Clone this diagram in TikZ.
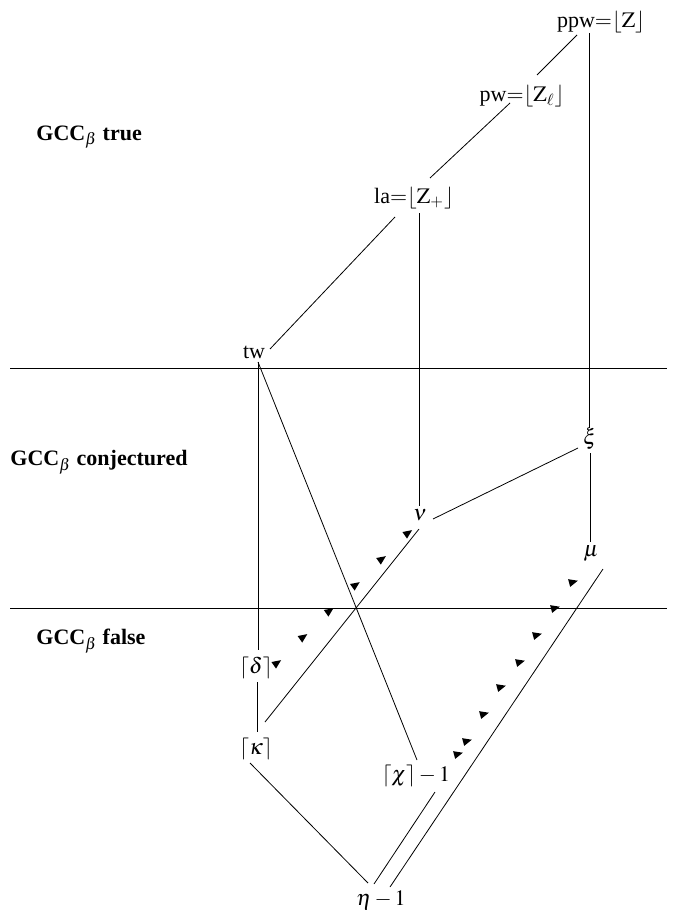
\documentclass[tikz,border=0pt]{standalone}
\usepackage{mathptmx}
\usepackage{fontspec}
\setmainfont{Liberation Serif}
\usetikzlibrary{calc}
\tikzset{
    lbl/.style={inner sep=2pt},
    zone/.style={anchor=west, inner sep=0pt},
    barb/.style={fill=black},
}
\begin{document}
\begin{tikzpicture}[x=0.5pt, y=-0.5pt, font=\fontsize{11}{13}\selectfont]
    \useasboundingbox (0,0) rectangle (695,920);
    \draw (10,368) -- (667,368);
    \draw (10,608) -- (667,608);
    \node[zone] (ztrue) at (36,137) {\textbf{GCC}$_\beta$ \textbf{true}};
    \node[zone] (zconj) at (10,462) {\textbf{GCC}$_\beta$ \textbf{conjectured}};
    \node[zone] (zfalse) at (36,641) {\textbf{GCC}$_\beta$ \textbf{false}};
    \node[lbl] (ppw) at (601,22) {ppw${=}\lfloor\mathrm{Z}\rfloor$};
    \node[lbl] (pw) at (522,96) {pw${=}\lfloor\mathrm{Z}_\ell\rfloor$};
    \node[lbl] (la) at (414,198) {la${=}\lfloor\mathrm{Z}_+\rfloor$};
    \node[lbl] (tw) at (254,352) {tw};
    \node[lbl] (xi) at (590,439) {$\xi$};
    \node[lbl] (nu) at (420,515) {$\nu$};
    \node[lbl] (mu) at (591,554) {$\mu$};
    \node[lbl] (delta) at (256,668) {$\lceil\delta\rceil$};
    \node[lbl] (kappa) at (256,749) {$\lceil\kappa\rceil$};
    \node[lbl] (chi) at (416,776) {$\lceil\chi\rceil-1$};
    \node[lbl] (eta) at (381,900) {$\eta-1$};
    \draw ($(ppw)+(-24,13)$) -- ($(pw)+(15,-21)$);
    \draw ($(pw)+(-12,7)$) -- ($(la)+(16,-20)$);
    \draw ($(la)+(-19,19)$) -- ($(tw)+(16,-3)$);
    \draw ($(la)+(5,15)$) -- ($(nu)+(-1,-9)$);
    \draw ($(ppw)+(-12,11)$) -- ($(xi)+(-1,-11)$);
    \draw ($(xi)+(0,14)$) -- ($(mu)+(-1,-12)$);
    \draw ($(xi)+(-12,9)$) -- ($(nu)+(13,4)$);
    \draw ($(tw)+(4,10)$) -- ($(delta)+(2,-18)$);
    \draw ($(delta)+(1,14)$) -- ($(kappa)+(1,-17)$);
    \draw ($(tw)+(4,10)$) -- ($(chi)+(1,-16)$);
    \draw ($(kappa)+(9,-27)$) -- ($(nu)+(-1,14)$);
    \draw ($(kappa)+(-6,14)$) -- ($(eta)+(-13,-17)$);
    \draw ($(chi)+(19,16)$) -- ($(eta)+(-7,-16)$);
    \draw ($(mu)+(12,15)$) -- ($(eta)+(9,-13)$);
    % barbs
    \foreach \i in {0,...,5}
        \fill[barb, shift={(277+26.2*\i,663-26*\i)}, rotate=35] (5,0) -- (-4,4) -- (-4,-4) -- cycle;
    \foreach \p in {(573,582),(555,608),(537,635),(520,662),(501,687),(484,714),(467,741),(458,754)}
        \fill[barb, shift={\p}, rotate=15] (5,0) -- (-4,4) -- (-4,-4) -- cycle;
\end{tikzpicture}
\end{document}
